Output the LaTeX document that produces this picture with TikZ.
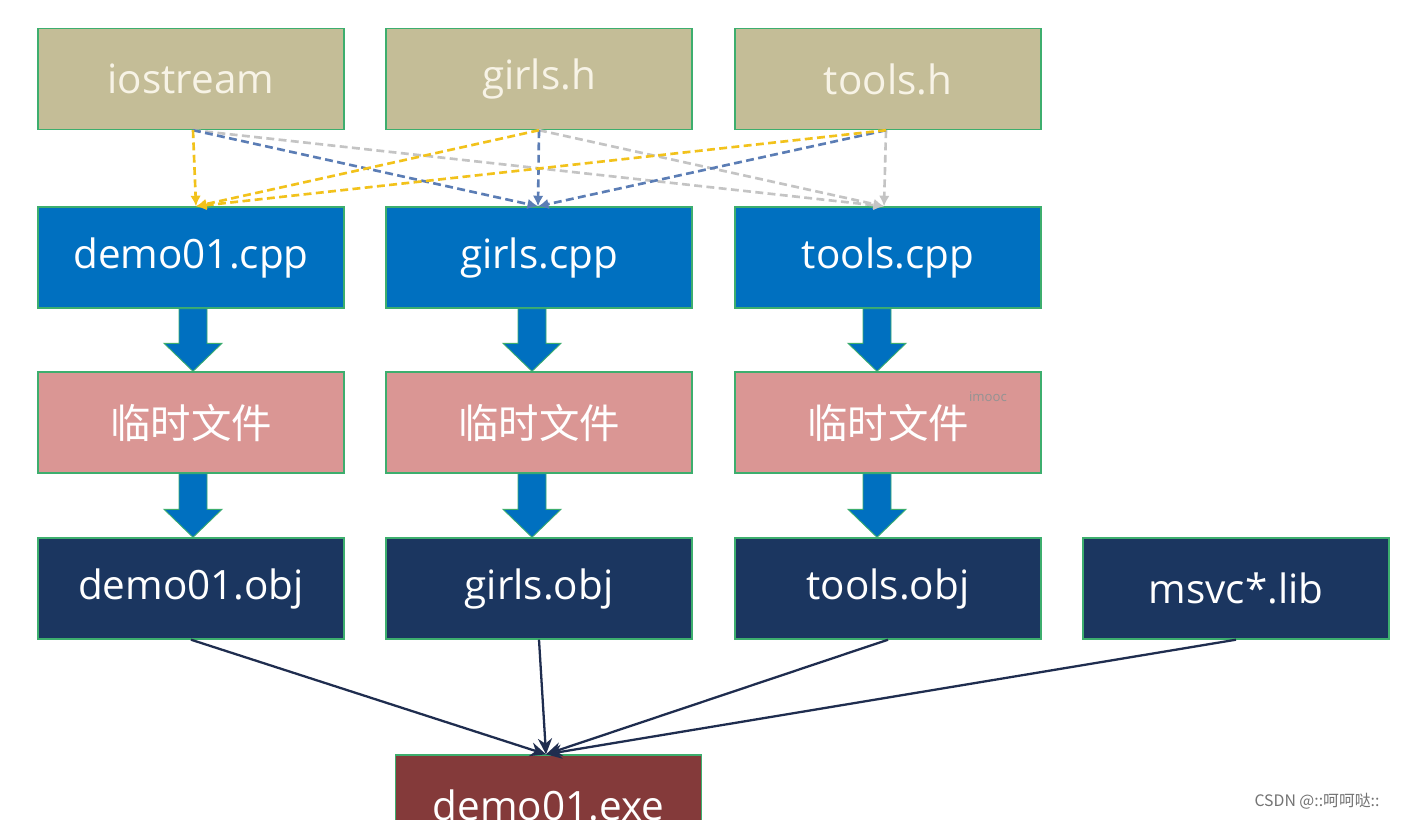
\documentclass[tikz,border=0pt]{standalone}
\usepackage{fontspec}
\setmainfont{Open Sans}
\newfontfamily\cjk{Noto Sans CJK SC}
\usetikzlibrary{arrows.meta,calc}

\definecolor{hdrfill}{HTML}{C4BD97}
\definecolor{hdrtext}{HTML}{F7F3E6}
\definecolor{cppfill}{HTML}{0070C0}
\definecolor{tmpfill}{HTML}{DA9694}
\definecolor{objfill}{HTML}{1B3660}
\definecolor{exefill}{HTML}{843A3A}
\definecolor{boxline}{HTML}{3DAE6E}
\definecolor{inclyellow}{HTML}{F2C21B}
\definecolor{inclblue}{HTML}{5B7DB5}
\definecolor{inclgray}{HTML}{C4C4C4}
\definecolor{linkline}{HTML}{1F2D4F}

\tikzset{
  file/.style={draw=boxline, line width=0.8pt, minimum width=6.12cm, minimum height=2.02cm,
    inner sep=0pt, text=white, font=\fontsize{23}{28}\selectfont},
  hdr/.style={file, fill=hdrfill, text=hdrtext},
  cpp/.style={file, fill=cppfill},
  tmp/.style={file, fill=tmpfill},
  obj/.style={file, fill=objfill},
  exe/.style={file, fill=exefill},
  incl/.style={line width=1.5pt, dash pattern=on 4.5pt off 2.5pt, -{Latex[length=6pt,width=6pt]}},
  link/.style={draw=linkline, line width=1.3pt, -{Stealth[length=9pt,width=8pt]}},
  blockarrow/.style={fill=cppfill, draw=boxline, line width=0.5pt}
}

\begin{document}
\begin{tikzpicture}[x=0.02cm,y=-0.02cm]
    \useasboundingbox (0,0) rectangle (1406,819);
    \fill[white] (0,0) rectangle (1406,819);

    % header files
    \node[hdr] (io) at (191,79) {iostream};
    \node[hdr] (gh) at (539,79) {girls.h};
    \node[hdr] (th) at (888,79) {tools.h};

    % sources
    \node[cpp] (dcpp) at (191,257.5) {demo01.cpp};
    \node[cpp] (gcpp) at (539,257.5) {girls.cpp};
    \node[cpp] (tcpp) at (888,257.5) {tools.cpp};

    % temp files
    \node[tmp] (dtmp) at (191,422.5) {\cjk 临时文件};
    \node[tmp] (gtmp) at (539,422.5) {\cjk 临时文件};
    \node[tmp] (ttmp) at (888,422.5) {\cjk 临时文件};

    % objects
    \node[obj] (dobj) at (191,588.5) {demo01.obj};
    \node[obj] (gobj) at (539,588.5) {girls.obj};
    \node[obj] (tobj) at (888,588.5) {tools.obj};
    \node[obj] (lib) at (1236,588.5) {msvc*.lib};

    \node[exe] (exe) at (548.5,805.5) {demo01.exe};

    % includes
    \foreach \src/\sx in {io/0.04cm, gh/0cm, th/-0.04cm} {
        \draw[incl, draw=inclgray] ([xshift=\sx]\src.south) -- ([xshift=-0.08cm]tcpp.north);
        \draw[incl, draw=inclblue] ([xshift=\sx]\src.south) -- ([xshift=-0.02cm]gcpp.north);
        \draw[incl, draw=inclyellow] ([xshift=\sx]\src.south) -- ([xshift=0.1cm]dcpp.north);
    }

    % compile steps
    \foreach \a/\b/\dx in {dcpp/dtmp/0.04cm, gcpp/gtmp/-0.14cm, tcpp/ttmp/-0.22cm,
                           dtmp/dobj/0.04cm, gtmp/gobj/-0.14cm, ttmp/tobj/-0.22cm} {
        \path ([xshift=\dx]\a.south) coordinate (s) ([xshift=\dx]\b.north) coordinate (t);
        \filldraw[blockarrow] (t) -- ++(-29,-28) -- ++(15,0) |- ($(s)+(-14,0)$)
            -- ++(28,0) |- ($(t)+(14,-28)$) -- ++(15,0) -- cycle;
    }

    % linking
    \foreach \o in {dobj,gobj,tobj,lib}
        \draw[link] (\o.south) -- ([xshift=-0.05cm]exe.north);

    \node[text=gray!85, font=\fontsize{7.5}{9}\selectfont] (wm) at (988,397) {imooc};
    \node[text=gray!90!black, font=\cjk\fontsize{9}{11}\selectfont] (csdn) at (1317,801) {CSDN @::呵呵哒::};
\end{tikzpicture}
\end{document}
